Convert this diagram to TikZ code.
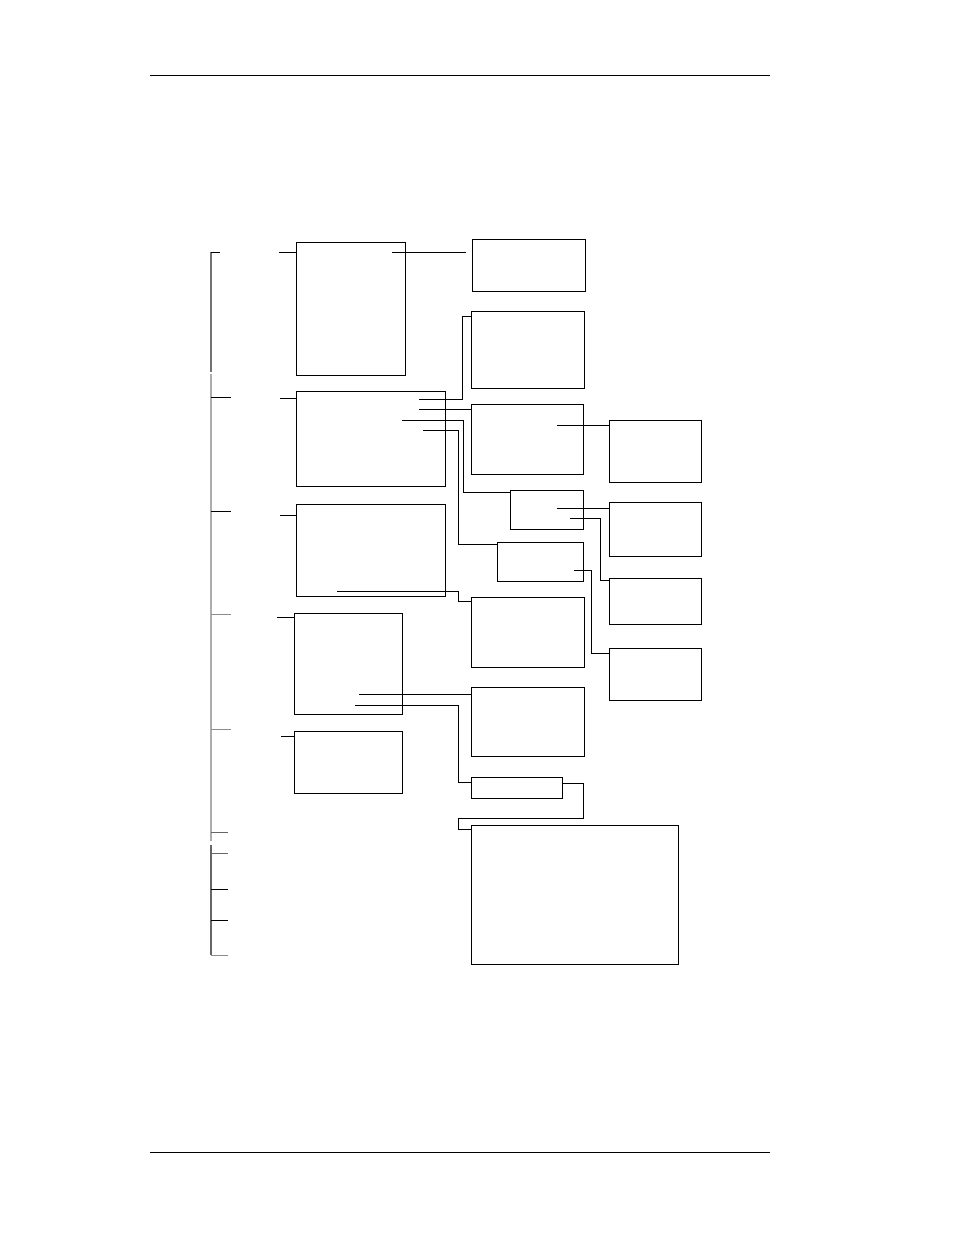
\documentclass[tikz,border=0pt]{standalone}
\usepackage{tikz}
\usetikzlibrary{positioning,calc}
\tikzset{>=latex}

\begin{document}
\begin{tikzpicture}[x=1pt,y=-1pt,line width=1pt,
    box/.style={draw,rectangle,inner sep=0pt,outer sep=0pt,anchor=north west},
    lead/.style={line width=1pt}]
    \useasboundingbox (0,0) rectangle (954,1235);
    % page rules
    \draw (150,75) -- (770,75);
    \draw (150,1152) -- (770,1152);

    % left spine
    \draw [gray!90!black,line width=1.2pt] (211,252) -- (211,372);
    \draw [black!32,line width=1.6pt] (211,374) -- (211,841);
    \draw [black!60,line width=1.2pt] (211,845) -- (211,955);
    \draw (211,252) -- (220,252);
    \foreach \y in {397,511} \draw (211,\y) -- (231,\y);
    \foreach \y in {614,729} \draw [black!45] (211,\y) -- (231,\y);
    \foreach \y in {832,853} \draw [black!60] (211,\y) -- (228,\y);
    \foreach \y in {889,920} \draw (211,\y) -- (228,\y);
    \draw [black!45] (211,955) -- (228,955);

    % boxes
    \node [box,minimum width=109,minimum height=133] (boxA) at (296,242) {};
    \node [box,minimum width=113,minimum height=52] (boxB) at (472,239) {};
    \node [box,minimum width=113,minimum height=77] (boxC) at (471,311) {};
    \node [box,minimum width=149,minimum height=95] (boxD) at (296,391) {};
    \node [box,minimum width=112,minimum height=70] (boxE) at (471,404) {};
    \node [box,minimum width=73,minimum height=39] (boxF) at (510,490) {};
    \node [box,minimum width=86,minimum height=39] (boxG) at (497,542) {};
    \node [box,minimum width=92,minimum height=62] (boxH) at (609,420) {};
    \node [box,minimum width=92,minimum height=54] (boxI) at (609,502) {};
    \node [box,minimum width=92,minimum height=46] (boxJ) at (609,578) {};
    \node [box,minimum width=92,minimum height=52] (boxK) at (609,648) {};
    \node [box,minimum width=149,minimum height=92] (boxL) at (296,504) {};
    \node [box,minimum width=113,minimum height=70] (boxM) at (471,597) {};
    \node [box,minimum width=108,minimum height=101] (boxN) at (294,613) {};
    \node [box,minimum width=113,minimum height=69] (boxO) at (471,687) {};
    \node [box,minimum width=91,minimum height=21] (boxP) at (471,777) {};
    \node [box,minimum width=108,minimum height=62] (boxQ) at (294,731) {};
    \node [box,minimum width=207,minimum height=139] (boxR) at (471,825) {};

    % leads into the left boxes
    \coordinate (inA) at (279,252);
    \coordinate (inD) at (280,398);
    \coordinate (inL) at (280,515);
    \coordinate (inN) at (277,617);
    \coordinate (inQ) at (281,736);
    \draw (inA) -- ($(boxA.north west)+(0,10)$);
    \draw (inD) -- ($(boxD.north west)+(0,7)$);
    \draw (inL) -- ($(boxL.north west)+(0,11)$);
    \draw (inN) -- ($(boxN.north west)+(0,4)$);
    \draw (inQ) -- ($(boxQ.north west)+(0,5)$);

    % connectors
    \coordinate (a1) at (392,252);
    \coordinate (d1) at (419,399);
    \coordinate (d2) at (419,409);
    \coordinate (d3) at (402,420);
    \coordinate (d4) at (423,430);
    \coordinate (e1) at (557,425);
    \coordinate (f1) at (557,508);
    \coordinate (f2) at (570,518);
    \coordinate (g1) at (574,570);
    \coordinate (l1) at (337,591);
    \coordinate (n1) at (359,694);
    \coordinate (n2) at (355,705);

    \draw (a1) -- ++(74,0);
    \draw (d1) -- ++(43,0) |- ($(boxC.north west)+(0,5)$);
    \draw (d2) -- ($(boxE.north west)+(0,5)$);
    \draw (d3) -- ++(61,0) |- ($(boxF.north west)+(0,2)$);
    \draw (d4) -- ++(35,0) |- ($(boxG.north west)+(0,2)$);
    \draw (e1) -- ($(boxH.north west)+(0,5)$);
    \draw (f1) -- ($(boxI.north west)+(0,6)$);
    \draw (f2) -- ++(30,0) |- ($(boxJ.north west)+(0,2)$);
    \draw (g1) -- ++(17,0) |- ($(boxK.north west)+(0,5)$);
    \draw (l1) -- ++(121,0) |- ($(boxM.north west)+(0,4)$);
    \draw (n1) -- ($(boxO.north west)+(0,7)$);
    \draw (n2) -- ++(103,0) |- ($(boxP.north west)+(0,5)$);
    \draw ($(boxP.north east)+(0,6)$) -- ++(21,0) -- ++(0,35) -- ++(-125,0)
        |- ($(boxR.north west)+(0,4)$);
\end{tikzpicture}
\end{document}
